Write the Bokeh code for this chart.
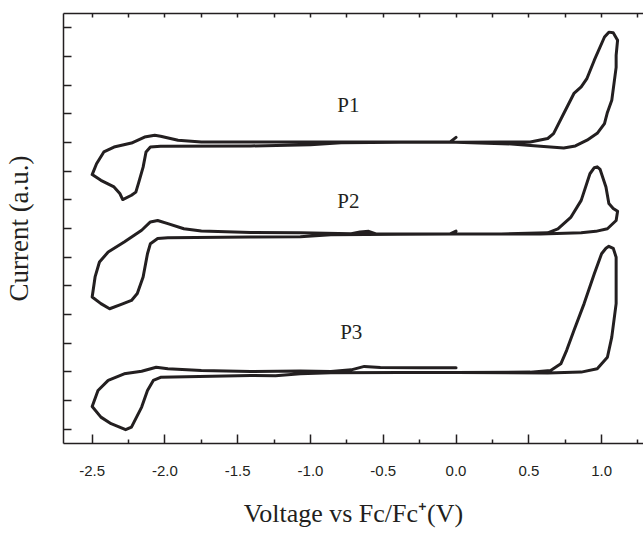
from bokeh.plotting import figure
from bokeh.models import Range1d, LinearAxis, FixedTicker, ColumnDataSource
from bokeh.embed import file_html
from bokeh.resources import INLINE
from bokeh.core.properties import value

# ---- data (voltage in V vs Fc/Fc+, current in arbitrary units, curves offset) ----
p1_v = [0.00, -0.04, -0.38, -1.07, -1.41, -1.75, -1.91, -2.03, -2.07, -2.14, -2.23, -2.35, -2.42, -2.47, -2.50,
        -2.44, -2.35, -2.31, -2.29, -2.23, -2.20, -2.18, -2.15, -2.13, -2.10, -2.03, -1.41, -1.00, -0.79, -0.38,
        0.00, 0.31, 0.51, 0.63, 0.67, 0.74, 0.81, 0.86, 0.90, 0.95, 1.02, 1.05, 1.08, 1.11, 1.10, 1.10, 1.07,
        1.04, 1.02, 0.97, 0.90, 0.82, 0.74, 0.58, 0.38, 0.00]
p1_i = [10.18, 10.02, 10.02, 10.02, 10.02, 10.02, 10.08, 10.22, 10.25, 10.19, 9.98, 9.84, 9.67, 9.26, 8.88,
        8.68, 8.45, 8.22, 8.01, 8.16, 8.27, 8.61, 9.14, 9.67, 9.84, 9.87, 9.88, 9.92, 9.99, 10.01,
        10.01, 10.02, 10.02, 10.14, 10.31, 11.01, 11.71, 11.94, 12.24, 12.87, 13.68, 13.85, 13.83, 13.57, 13.04,
        12.62, 11.47, 11.05, 10.66, 10.32, 10.08, 9.88, 9.81, 9.87, 9.95, 10.01]

p2_v = [0.00, -0.04, -0.55, -0.60, -0.66, -0.72, -1.07, -1.41, -1.75, -1.87, -1.98, -2.05, -2.10, -2.16, -2.28,
        -2.39, -2.45, -2.48, -2.50, -2.44, -2.38, -2.30, -2.23, -2.19, -2.15, -2.12, -2.10, -2.05, -1.98, -1.41,
        -1.07, -0.86, -0.38, 0.00, 0.31, 0.63, 0.70, 0.79, 0.86, 0.92, 0.95, 0.97, 0.99, 1.03, 1.05, 1.08, 1.11,
        1.10, 1.04, 0.96, 0.86, 0.58, 0.00]
p2_i = [6.91, 6.81, 6.81, 6.90, 6.88, 6.82, 6.85, 6.86, 6.91, 6.99, 7.17, 7.28, 7.23, 6.94, 6.53,
        6.18, 5.83, 5.31, 4.61, 4.38, 4.20, 4.35, 4.49, 4.73, 5.31, 6.12, 6.47, 6.65, 6.68, 6.70,
        6.71, 6.78, 6.80, 6.81, 6.81, 6.85, 6.99, 7.40, 7.98, 8.91, 9.12, 9.15, 9.06, 8.45, 7.87, 7.70, 7.60,
        7.28, 6.99, 6.90, 6.85, 6.81, 6.81]

p3_v = [0.00, -0.24, -0.52, -0.63, -0.72, -0.86, -1.07, -1.41, -1.75, -1.98, -2.06, -2.16, -2.28, -2.39, -2.46,
        -2.50, -2.44, -2.37, -2.32, -2.27, -2.23, -2.16, -2.12, -2.08, -2.03, -1.41, -1.24, -1.07, -0.86, -0.38,
        0.00, 0.51, 0.65, 0.72, 0.76, 0.81, 0.88, 0.95, 1.00, 1.03, 1.05, 1.08, 1.10, 1.10, 1.10, 1.07, 1.04,
        0.97, 0.86, 0.63, 0.00]
p3_i = [2.14, 2.14, 2.15, 2.19, 2.07, 2.01, 2.03, 2.01, 2.05, 2.11, 2.16, 2.02, 1.93, 1.70, 1.35,
        0.79, 0.42, 0.19, 0.09, -0.02, 0.07, 0.77, 1.35, 1.70, 1.81, 1.87, 1.86, 1.93, 1.97, 1.98,
        1.98, 1.99, 2.05, 2.28, 2.75, 3.44, 4.38, 5.42, 6.12, 6.31, 6.38, 6.31, 6.00, 5.54, 4.38, 3.21, 2.51,
        2.11, 1.99, 1.96, 1.98]

curve_names = ["P1", "P2", "P3"]
name_v = [-0.74, -0.74, -0.72]
name_i = [11.30, 7.97, 3.38]

x_ticks = [-2.5, -2.0, -1.5, -1.0, -0.5, 0.0, 0.5, 1.0]
x_tick_labels = ["-2.5", "-2.0", "-1.5", "-1.0", "-0.5", "0.0", "0.5", "1.0"]
x_minor_ticks = [-2.25, -1.75, -1.25, -0.75, -0.25, 0.25, 0.75, 1.25]
top_ticks = [-2.5, -2.25, -2.0, -1.75, -1.5, -1.25, -1.0, -0.75, -0.5, -0.25, 0.0, 0.25, 0.5, 0.75, 1.0, 1.25]
y_ticks = list(range(0, 15))

INK = "#231f20"

p = figure(width=643, height=533, output_backend="svg", toolbar_location=None,
           x_range=Range1d(-2.697, 1.288), y_range=Range1d(-0.5, 14.5),
           x_axis_type=None, y_axis_type=None,
           min_border_left=62, min_border_right=0, min_border_top=13, min_border_bottom=90)
p.outline_line_color = None
p.xgrid.visible = False
p.ygrid.visible = False
p.background_fill_color = "white"
p.border_fill_color = "white"

# bottom axis
xa = LinearAxis(ticker=FixedTicker(ticks=x_ticks, minor_ticks=x_minor_ticks))
xa.major_label_overrides = {t: s for t, s in zip(x_ticks, x_tick_labels)}
xa.axis_label = "Voltage vs Fc/Fc\u207a(V)"
xa.axis_label_text_font = "Liberation Serif"
xa.axis_label_text_font_size = "26px"
xa.axis_label_text_font_style = "normal"
xa.axis_label_text_color = INK
xa.axis_label_standoff = 20
xa.major_label_text_font = "Liberation Sans"
xa.major_label_text_font_size = "15px"
xa.major_label_text_color = INK
xa.major_label_standoff = 22
xa.major_tick_in = 9
xa.major_tick_out = 0
xa.minor_tick_in = 4
xa.minor_tick_out = 0
xa.axis_line_color = INK
xa.axis_line_width = 1.5
xa.major_tick_line_color = INK
xa.major_tick_line_width = 1.5
xa.minor_tick_line_color = INK
xa.minor_tick_line_width = 1.5
p.add_layout(xa, "below")

# top axis (ticks only)
ta = LinearAxis(ticker=FixedTicker(ticks=top_ticks, minor_ticks=[]))
ta.major_label_overrides = {t: "" for t in top_ticks}
ta.major_label_standoff = 0
ta.major_tick_in = 4
ta.major_tick_out = 0
ta.axis_line_color = INK
ta.axis_line_width = 1.5
ta.major_tick_line_color = INK
ta.major_tick_line_width = 1.5
ta.minor_tick_line_color = None
p.add_layout(ta, "above")

# left axis (ticks only, no numbers)
ya = LinearAxis(ticker=FixedTicker(ticks=y_ticks, minor_ticks=[]))
ya.major_label_overrides = {t: "" for t in y_ticks}
ya.major_label_standoff = 0
ya.axis_label = "Current (a.u.)"
ya.axis_label_text_font = "Liberation Serif"
ya.axis_label_text_font_size = "27px"
ya.axis_label_text_font_style = "normal"
ya.axis_label_text_color = INK
ya.axis_label_standoff = 30
ya.major_tick_in = 8
ya.major_tick_out = 0
ya.minor_tick_line_color = None
ya.axis_line_color = INK
ya.axis_line_width = 1.5
ya.major_tick_line_color = INK
ya.major_tick_line_width = 1.5
p.add_layout(ya, "left")

for vv, ii in [(p1_v, p1_i), (p2_v, p2_i), (p3_v, p3_i)]:
    src = ColumnDataSource(dict(v=vv, i=ii))
    p.line("v", "i", source=src, line_color=INK, line_width=3, line_join="round", line_cap="round")

lab = ColumnDataSource(dict(v=name_v, i=name_i, t=curve_names))
p.text("v", "i", text="t", source=lab, text_font=value("Liberation Serif"), text_font_size="21px",
       text_align="center", text_baseline="middle", text_color=INK)

open("out.html", "w").write(file_html(p, INLINE))
